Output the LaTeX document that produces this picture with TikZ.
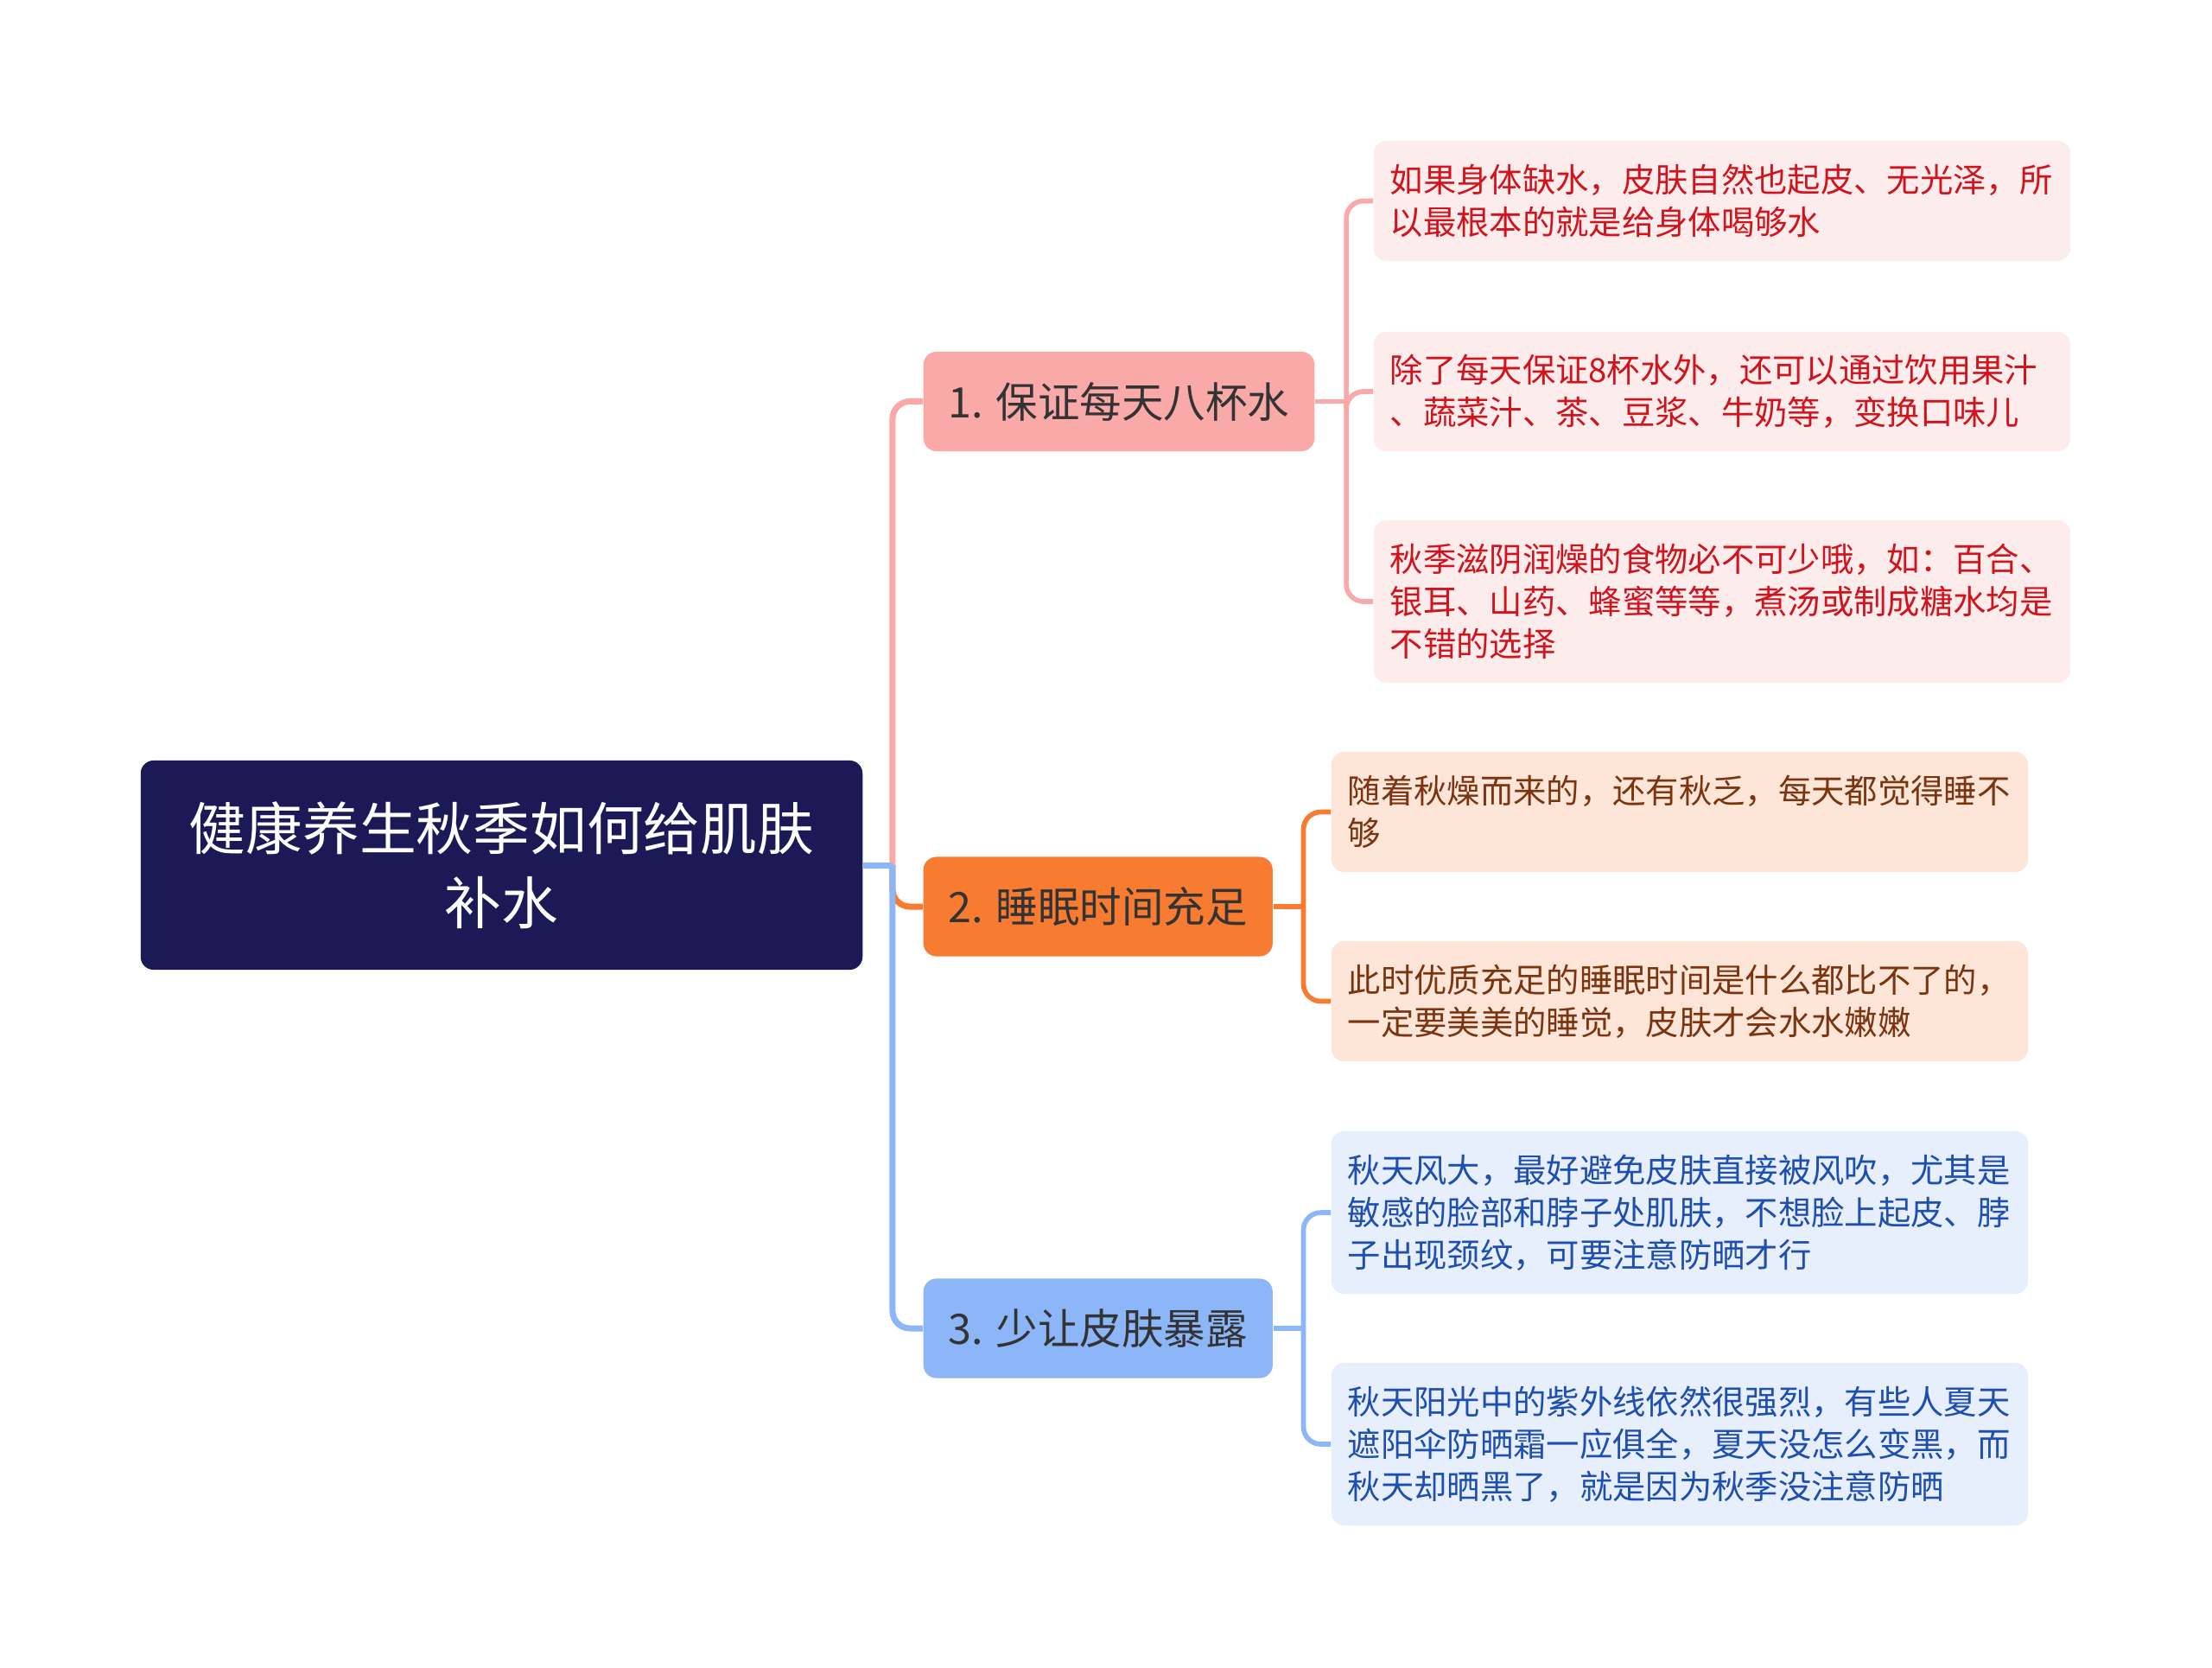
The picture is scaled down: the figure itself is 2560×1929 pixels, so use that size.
\documentclass[tikz,border=0pt]{standalone}
\usepackage{fontspec}
\setmainfont{Noto Sans CJK SC}
\usetikzlibrary{calc}

\definecolor{rootnavy}{HTML}{1B1A57}
\definecolor{pinkmain}{HTML}{F8A9A8}
\definecolor{orangemain}{HTML}{F77B31}
\definecolor{bluemain}{HTML}{8CB6F7}
\definecolor{pinkleaf}{HTML}{FDECEC}
\definecolor{orangeleaf}{HTML}{FDE5D8}
\definecolor{blueleaf}{HTML}{E8EFFC}
\definecolor{pinktext}{HTML}{D0131C}
\definecolor{orangetext}{HTML}{7A3510}
\definecolor{bluetext}{HTML}{1D4EB0}
\definecolor{topictext}{HTML}{333333}

\tikzset{
  rootbox/.style={rounded corners=0.15cm, fill=rootnavy, text=white, align=center,
    minimum width=8.35cm, minimum height=2.42cm, font=\fontsize{18.7pt}{24.6pt}\selectfont},
  topicbox/.style={rounded corners=0.15cm, text=topictext, anchor=west,
    minimum height=1.15cm, inner xsep=0.29cm, font=\fontsize{13.8pt}{16pt}\selectfont},
  notebox/.style={rounded corners=0.15cm, anchor=west, align=left, text width=7.68cm,
    inner xsep=0.19cm, font=\fontsize{10.9pt}{13.9pt}\selectfont},
  mainline/.style={line width=2pt, rounded corners=0.2cm},
  subline/.style={line width=1.6pt, rounded corners=0.2cm},
}

\begin{document}
\begin{tikzpicture}[x=0.01cm, y=-0.01cm]
\useasboundingbox[fill=white] (0,0) rectangle (2560,1929);

% centre topic
\node[rootbox] (root) at (580.5,1001) {健康养生秋季如何给肌肤\\补水};

% main topics
\node[topicbox, fill=pinkmain, minimum width=4.5cm] (t1) at (1068,464.5) {1. 保证每天八杯水};
\node[topicbox, fill=orangemain, minimum width=4.01cm] (t2) at (1068,1049) {2. 睡眠时间充足};
\node[topicbox, fill=bluemain, minimum width=4.01cm] (t3) at (1068,1537) {3. 少让皮肤暴露};

% notes
\node[notebox, fill=pinkleaf, text=pinktext, minimum height=1.39cm] (n11) at (1589,232.5)
  {如果身体缺水，皮肤自然也起皮、无光泽，所\\以最根本的就是给身体喝够水};
\node[notebox, fill=pinkleaf, text=pinktext, minimum height=1.38cm] (n12) at (1589,453)
  {除了每天保证8杯水外，还可以通过饮用果汁\\、蔬菜汁、茶、豆浆、牛奶等，变换口味儿};
\node[notebox, fill=pinkleaf, text=pinktext, minimum height=1.88cm] (n13) at (1589,696)
  {秋季滋阴润燥的食物必不可少哦，如：百合、\\银耳、山药、蜂蜜等等，煮汤或制成糖水均是\\不错的选择};

\node[notebox, fill=orangeleaf, text=orangetext, minimum height=1.39cm] (n21) at (1540,939.5)
  {随着秋燥而来的，还有秋乏，每天都觉得睡不\\够};
\node[notebox, fill=orangeleaf, text=orangetext, minimum height=1.39cm] (n22) at (1540,1158.5)
  {此时优质充足的睡眠时间是什么都比不了的，\\一定要美美的睡觉，皮肤才会水水嫩嫩};

\node[notebox, fill=blueleaf, text=bluetext, minimum height=1.88cm] (n31) at (1540,1403)
  {秋天风大，最好避免皮肤直接被风吹，尤其是\\敏感的脸部和脖子处肌肤，不想脸上起皮、脖\\子出现颈纹，可要注意防晒才行};
\node[notebox, fill=blueleaf, text=bluetext, minimum height=1.88cm] (n32) at (1540,1671)
  {秋天阳光中的紫外线依然很强烈，有些人夏天\\遮阳伞防晒霜一应俱全，夏天没怎么变黑，而\\秋天却晒黑了，就是因为秋季没注意防晒};

% connectors
\coordinate (hub) at ($(root.east)+(34,0)$);
\draw[mainline, pinkmain] (hub) |- (t1.west);
\draw[mainline, orangemain] (hub) |- (t2.west);
\draw[mainline, bluemain] (hub) |- (t3.west);
\draw[mainline, bluemain] (root.east) -- (hub);

\coordinate (k1) at ($(t1.east)+(36,0)$);
\coordinate (k2) at ($(t2.east)+(35,0)$);
\coordinate (k3) at ($(t3.east)+(35,0)$);
\draw[subline, pinkmain] (t1.east) -- (k1);
\foreach \n in {n11,n12,n13} \draw[subline, pinkmain] (k1) |- (\n.west);
\draw[subline, orangemain] (t2.east) -- (k2);
\foreach \n in {n21,n22} \draw[subline, orangemain] (k2) |- (\n.west);
\draw[subline, bluemain] (t3.east) -- (k3);
\foreach \n in {n31,n32} \draw[subline, bluemain] (k3) |- (\n.west);
\end{tikzpicture}
\end{document}
